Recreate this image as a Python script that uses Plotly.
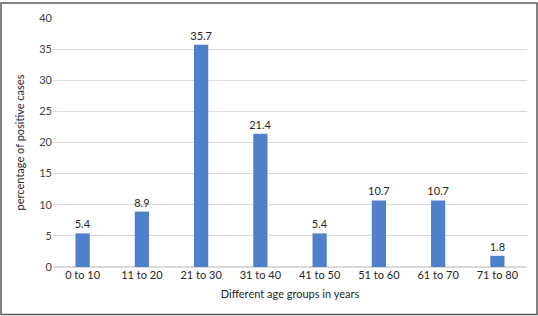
import plotly.graph_objects as go

categories = ["0 to 10", "11 to 20", "21 to 30", "31 to 40", "41 to 50", "51 to 60", "61 to 70", "71 to 80"]
percentages = [5.4, 8.9, 35.7, 21.4, 5.4, 10.7, 10.7, 1.8]
y_ticks = [0, 5, 10, 15, 20, 25, 30, 35, 40]

W, H = 538, 316
ml, mr, mt, mb = 53, 11, 16, 49
pw, ph = W - ml - mr, H - mt - mb

fig = go.Figure()
fig.add_trace(go.Bar(
    x=categories, y=percentages,
    marker=dict(color="#5080cb", line=dict(width=0)),
    text=[f"{v}" for v in percentages], textposition="outside",
    textfont=dict(size=11, color="#262626", family="Lato"),
    constraintext="none",
    cliponaxis=False,
))

fig.update_layout(
    width=W, height=H,
    margin=dict(l=ml, r=mr, t=mt, b=mb),
    paper_bgcolor="white", plot_bgcolor="white",
    bargap=0.76,
    showlegend=False,
    font=dict(family="Lato", size=11, color="#404040"),
    xaxis=dict(
        title=dict(text="Different age groups in years", standoff=10, font=dict(size=11, color="#262626")),
        showgrid=False, showline=False, ticks="", tickfont=dict(size=11, color="#262626"),
    ),
    yaxis=dict(
        title=dict(text="percentage of positive cases", standoff=12, font=dict(size=11, color="#262626")),
        range=[0, 40], tickvals=y_ticks, showgrid=True, gridcolor="#d9d9d9", gridwidth=1,
        zeroline=True, zerolinecolor="#d9d9d9", showline=False, ticks="",
        tickfont=dict(size=11, color="#404040"),
    ),
)

fig.add_shape(type="rect", xref="paper", yref="paper",
              x0=(1 - ml) / pw, x1=(W - 1 - ml) / pw,
              y0=-(mb - 1) / ph, y1=1 + (mt - 1) / ph,
              line=dict(color="#595959", width=1.5), fillcolor="rgba(0,0,0,0)", layer="above")

fig.write_html("out.html", config={"displayModeBar": False},
               post_script="document.body.style.margin='0';document.body.style.overflow='hidden';")
